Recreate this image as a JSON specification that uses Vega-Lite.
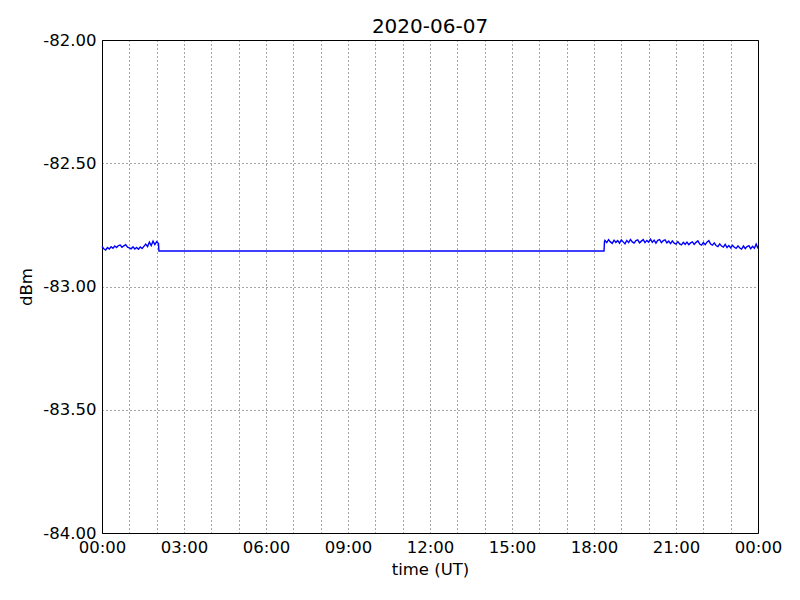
{
  "$schema": "https://vega.github.io/schema/vega-lite/v6.json",
  "width": 656,
  "height": 493,
  "autosize": {"type": "none"},
  "padding": {"left": 102, "top": 40, "right": 42, "bottom": 67},
  "background": "white",
  "title": {"text": "2020-06-07", "fontSize": 20, "font": "DejaVu Sans", "fontWeight": "normal", "color": "black", "offset": -5, "anchor": "middle"},
  "config": {
    "view": {"stroke": "black", "strokeWidth": 1},
    "axis": {
      "domain": false, "ticks": false,
      "labelFont": "DejaVu Sans", "labelFontSize": 16.5, "labelColor": "black",
      "titleFont": "DejaVu Sans", "titleFontSize": 16.5, "titleFontWeight": "normal", "titleColor": "black",
      "gridColor": "black", "gridDash": [1, 3], "gridWidth": 1, "gridOpacity": 0.7
    }
  },
  "data": {"values": [
    {"t": "2020-06-07T00:00:00Z", "dbm": -82.838},
    {"t": "2020-06-07T00:04:00Z", "dbm": -82.847},
    {"t": "2020-06-07T00:08:00Z", "dbm": -82.852},
    {"t": "2020-06-07T00:12:00Z", "dbm": -82.842},
    {"t": "2020-06-07T00:16:00Z", "dbm": -82.848},
    {"t": "2020-06-07T00:20:00Z", "dbm": -82.839},
    {"t": "2020-06-07T00:24:00Z", "dbm": -82.845},
    {"t": "2020-06-07T00:28:00Z", "dbm": -82.836},
    {"t": "2020-06-07T00:32:00Z", "dbm": -82.842},
    {"t": "2020-06-07T00:36:00Z", "dbm": -82.834},
    {"t": "2020-06-07T00:40:00Z", "dbm": -82.832},
    {"t": "2020-06-07T00:44:00Z", "dbm": -82.841},
    {"t": "2020-06-07T00:48:00Z", "dbm": -82.835},
    {"t": "2020-06-07T00:52:00Z", "dbm": -82.830},
    {"t": "2020-06-07T00:56:00Z", "dbm": -82.840},
    {"t": "2020-06-07T01:00:00Z", "dbm": -82.843},
    {"t": "2020-06-07T01:04:00Z", "dbm": -82.847},
    {"t": "2020-06-07T01:08:00Z", "dbm": -82.839},
    {"t": "2020-06-07T01:12:00Z", "dbm": -82.848},
    {"t": "2020-06-07T01:16:00Z", "dbm": -82.842},
    {"t": "2020-06-07T01:20:00Z", "dbm": -82.849},
    {"t": "2020-06-07T01:24:00Z", "dbm": -82.840},
    {"t": "2020-06-07T01:28:00Z", "dbm": -82.846},
    {"t": "2020-06-07T01:32:00Z", "dbm": -82.837},
    {"t": "2020-06-07T01:36:00Z", "dbm": -82.828},
    {"t": "2020-06-07T01:40:00Z", "dbm": -82.838},
    {"t": "2020-06-07T01:44:00Z", "dbm": -82.820},
    {"t": "2020-06-07T01:48:00Z", "dbm": -82.834},
    {"t": "2020-06-07T01:52:00Z", "dbm": -82.816},
    {"t": "2020-06-07T01:56:00Z", "dbm": -82.830},
    {"t": "2020-06-07T02:00:00Z", "dbm": -82.818},
    {"t": "2020-06-07T02:04:00Z", "dbm": -82.826},
    {"t": "2020-06-07T02:05:00Z", "dbm": -82.856},
    {"t": "2020-06-07T18:22:00Z", "dbm": -82.856},
    {"t": "2020-06-07T18:23:00Z", "dbm": -82.818},
    {"t": "2020-06-07T18:24:00Z", "dbm": -82.813},
    {"t": "2020-06-07T18:28:00Z", "dbm": -82.822},
    {"t": "2020-06-07T18:32:00Z", "dbm": -82.810},
    {"t": "2020-06-07T18:36:00Z", "dbm": -82.819},
    {"t": "2020-06-07T18:40:00Z", "dbm": -82.825},
    {"t": "2020-06-07T18:44:00Z", "dbm": -82.812},
    {"t": "2020-06-07T18:48:00Z", "dbm": -82.821},
    {"t": "2020-06-07T18:52:00Z", "dbm": -82.814},
    {"t": "2020-06-07T18:56:00Z", "dbm": -82.824},
    {"t": "2020-06-07T19:00:00Z", "dbm": -82.811},
    {"t": "2020-06-07T19:04:00Z", "dbm": -82.819},
    {"t": "2020-06-07T19:08:00Z", "dbm": -82.827},
    {"t": "2020-06-07T19:12:00Z", "dbm": -82.813},
    {"t": "2020-06-07T19:16:00Z", "dbm": -82.822},
    {"t": "2020-06-07T19:20:00Z", "dbm": -82.809},
    {"t": "2020-06-07T19:24:00Z", "dbm": -82.819},
    {"t": "2020-06-07T19:28:00Z", "dbm": -82.824},
    {"t": "2020-06-07T19:32:00Z", "dbm": -82.814},
    {"t": "2020-06-07T19:36:00Z", "dbm": -82.811},
    {"t": "2020-06-07T19:40:00Z", "dbm": -82.823},
    {"t": "2020-06-07T19:44:00Z", "dbm": -82.816},
    {"t": "2020-06-07T19:48:00Z", "dbm": -82.810},
    {"t": "2020-06-07T19:52:00Z", "dbm": -82.822},
    {"t": "2020-06-07T19:56:00Z", "dbm": -82.813},
    {"t": "2020-06-07T20:00:00Z", "dbm": -82.820},
    {"t": "2020-06-07T20:04:00Z", "dbm": -82.808},
    {"t": "2020-06-07T20:08:00Z", "dbm": -82.821},
    {"t": "2020-06-07T20:12:00Z", "dbm": -82.812},
    {"t": "2020-06-07T20:16:00Z", "dbm": -82.824},
    {"t": "2020-06-07T20:20:00Z", "dbm": -82.813},
    {"t": "2020-06-07T20:24:00Z", "dbm": -82.810},
    {"t": "2020-06-07T20:28:00Z", "dbm": -82.822},
    {"t": "2020-06-07T20:32:00Z", "dbm": -82.814},
    {"t": "2020-06-07T20:36:00Z", "dbm": -82.811},
    {"t": "2020-06-07T20:40:00Z", "dbm": -82.823},
    {"t": "2020-06-07T20:44:00Z", "dbm": -82.816},
    {"t": "2020-06-07T20:48:00Z", "dbm": -82.826},
    {"t": "2020-06-07T20:52:00Z", "dbm": -82.815},
    {"t": "2020-06-07T20:56:00Z", "dbm": -82.824},
    {"t": "2020-06-07T21:00:00Z", "dbm": -82.828},
    {"t": "2020-06-07T21:04:00Z", "dbm": -82.818},
    {"t": "2020-06-07T21:08:00Z", "dbm": -82.827},
    {"t": "2020-06-07T21:12:00Z", "dbm": -82.831},
    {"t": "2020-06-07T21:16:00Z", "dbm": -82.821},
    {"t": "2020-06-07T21:20:00Z", "dbm": -82.829},
    {"t": "2020-06-07T21:24:00Z", "dbm": -82.820},
    {"t": "2020-06-07T21:28:00Z", "dbm": -82.830},
    {"t": "2020-06-07T21:32:00Z", "dbm": -82.823},
    {"t": "2020-06-07T21:36:00Z", "dbm": -82.819},
    {"t": "2020-06-07T21:40:00Z", "dbm": -82.829},
    {"t": "2020-06-07T21:44:00Z", "dbm": -82.821},
    {"t": "2020-06-07T21:48:00Z", "dbm": -82.815},
    {"t": "2020-06-07T21:52:00Z", "dbm": -82.828},
    {"t": "2020-06-07T21:56:00Z", "dbm": -82.832},
    {"t": "2020-06-07T22:00:00Z", "dbm": -82.822},
    {"t": "2020-06-07T22:04:00Z", "dbm": -82.830},
    {"t": "2020-06-07T22:08:00Z", "dbm": -82.820},
    {"t": "2020-06-07T22:12:00Z", "dbm": -82.814},
    {"t": "2020-06-07T22:16:00Z", "dbm": -82.828},
    {"t": "2020-06-07T22:20:00Z", "dbm": -82.832},
    {"t": "2020-06-07T22:24:00Z", "dbm": -82.823},
    {"t": "2020-06-07T22:28:00Z", "dbm": -82.834},
    {"t": "2020-06-07T22:32:00Z", "dbm": -82.838},
    {"t": "2020-06-07T22:36:00Z", "dbm": -82.827},
    {"t": "2020-06-07T22:40:00Z", "dbm": -82.836},
    {"t": "2020-06-07T22:44:00Z", "dbm": -82.840},
    {"t": "2020-06-07T22:48:00Z", "dbm": -82.829},
    {"t": "2020-06-07T22:52:00Z", "dbm": -82.842},
    {"t": "2020-06-07T22:56:00Z", "dbm": -82.834},
    {"t": "2020-06-07T23:00:00Z", "dbm": -82.843},
    {"t": "2020-06-07T23:04:00Z", "dbm": -82.833},
    {"t": "2020-06-07T23:08:00Z", "dbm": -82.841},
    {"t": "2020-06-07T23:12:00Z", "dbm": -82.845},
    {"t": "2020-06-07T23:16:00Z", "dbm": -82.835},
    {"t": "2020-06-07T23:20:00Z", "dbm": -82.844},
    {"t": "2020-06-07T23:24:00Z", "dbm": -82.848},
    {"t": "2020-06-07T23:28:00Z", "dbm": -82.836},
    {"t": "2020-06-07T23:32:00Z", "dbm": -82.846},
    {"t": "2020-06-07T23:36:00Z", "dbm": -82.838},
    {"t": "2020-06-07T23:40:00Z", "dbm": -82.834},
    {"t": "2020-06-07T23:44:00Z", "dbm": -82.847},
    {"t": "2020-06-07T23:48:00Z", "dbm": -82.837},
    {"t": "2020-06-07T23:52:00Z", "dbm": -82.845},
    {"t": "2020-06-07T23:56:00Z", "dbm": -82.828},
    {"t": "2020-06-08T00:00:00Z", "dbm": -82.846}
  ]},
  "mark": {"type": "line", "color": "#0000ff", "strokeWidth": 1.4},
  "encoding": {
    "x": {"field": "t", "type": "temporal",
      "scale": {"type": "utc", "nice": false},
      "axis": {"title": "time (UT)", "tickCount": 24, "labelExpr": "utchours(datum.value) % 3 == 0 ? utcFormat(datum.value, '%H:%M') : ''", "labelPadding": 6, "titlePadding": 6, "labelFlush": false, "labelOverlap": false, "grid": true}},
    "y": {"field": "dbm", "type": "quantitative",
      "scale": {"domain": [-84, -82], "nice": false, "zero": false},
      "axis": {"title": "dBm", "values": [-84, -83.5, -83, -82.5, -82], "labelExpr": "'-' + format(-datum.value, '.2f')", "labelPadding": 6, "titlePadding": 8, "grid": true}}
  }
}
